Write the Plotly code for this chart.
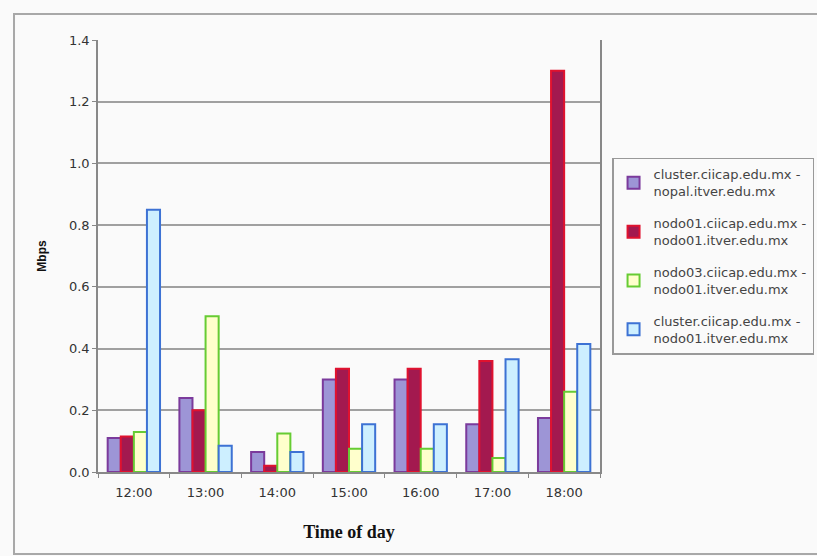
import plotly.graph_objects as go

# Throughput per hour of day (Mbps) for each host pair
times = ["12:00", "13:00", "14:00", "15:00", "16:00", "17:00", "18:00"]

series_names = [
    "cluster.ciicap.edu.mx -<br>nopal.itver.edu.mx",
    "nodo01.ciicap.edu.mx -<br>nodo01.itver.edu.mx",
    "nodo03.ciicap.edu.mx -<br>nodo01.itver.edu.mx",
    "cluster.ciicap.edu.mx -<br>nodo01.itver.edu.mx",
]

cluster_nopal = [0.11, 0.24, 0.065, 0.30, 0.30, 0.155, 0.175]
nodo01_nodo01 = [0.115, 0.20, 0.02, 0.335, 0.335, 0.36, 1.30]
nodo03_nodo01 = [0.13, 0.505, 0.125, 0.075, 0.075, 0.045, 0.26]
cluster_nodo01 = [0.85, 0.085, 0.065, 0.155, 0.155, 0.365, 0.415]

values = [cluster_nopal, nodo01_nodo01, nodo03_nodo01, cluster_nodo01]
fills = ["#9d95d6", "#a3194f", "#ffffcc", "#cdefff"]
edges = ["#7b3a9c", "#e0122f", "#66cc33", "#3d72d4"]

BG = "#fafafa"
TICK_FONT = dict(family="DejaVu Sans", size=13, color="#333333")

fig = go.Figure()
for i, (name, vals) in enumerate(zip(series_names, values)):
    fig.add_trace(go.Bar(
        x=times, y=vals, name=name,
        legendgroup=f"g{i}",
        marker=dict(color=fills[i], line=dict(color=edges[i], width=2)),
    ))

fig.update_layout(
    width=817, height=556,
    margin=dict(l=98, r=217, t=40, b=84, autoexpand=False),
    paper_bgcolor=BG, plot_bgcolor=BG,
    barmode="group", bargap=0.27, bargroupgap=0,
    showlegend=True,
    legend=dict(
        x=1.024, y=0.727, xanchor="left", yanchor="top",
        bgcolor=BG, bordercolor="#999999", borderwidth=1.5,
        font=dict(family="DejaVu Sans", size=13, color="#444444"),
        traceorder="grouped", tracegroupgap=12,
    ),
    xaxis=dict(
        type="category", tickson="boundaries",
        ticks="outside", ticklen=4, tickcolor="#888888",
        showline=True, linecolor="#888888", linewidth=1.5,
        showgrid=False, tickfont=TICK_FONT, ticklabelstandoff=8,
        automargin=False,
        title=dict(text="<b>Time of day</b>",
                   font=dict(family="Liberation Serif", size=18, color="#111111"),
                   standoff=26),
    ),
    yaxis=dict(
        range=[0, 1.4], dtick=0.2, tickformat=".1f",
        ticks="outside", ticklen=4, tickcolor="#888888",
        showline=True, linecolor="#888888", linewidth=1.5, mirror=True,
        showgrid=True, gridcolor="#a0a0a0", gridwidth=1.5,
        tickfont=TICK_FONT, zeroline=False, automargin=False,
        title=dict(text="<b>Mbps</b>",
                   font=dict(family="Liberation Sans", size=12, color="#111111"),
                   standoff=20),
    ),
    shapes=[dict(
        type="rect", xref="paper", yref="paper",
        x0=-0.1673, x1=1.5, y0=-0.19, y1=1.0602,
        line=dict(color="#a8a8a8", width=2), fillcolor="rgba(0,0,0,0)",
        layer="below",
    )],
)

fig.write_html("out.html")
